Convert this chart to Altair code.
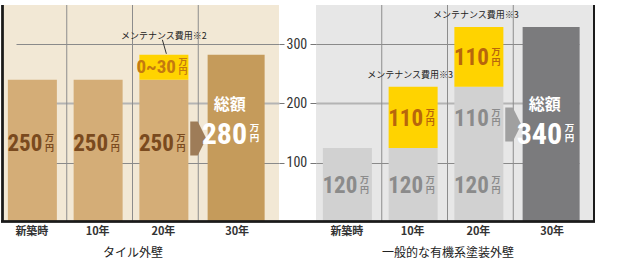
import altair as alt
import pandas as pd

# ---------------- data ----------------
categories = ["新築時", "10年", "20年", "30年"]
y_ticks = [100, 200, 300]

# タイル外壁 (bar heights as drawn, labels as printed)
tile_base = [240, 240, 240]
tile_base_text = ["250", "250", "250"]
tile_maint = [0, 0, 42]
tile_maint_text = ["", "", "0~30"]
tile_maint_kind = ["", "", "maint"]
tile_total = 282
tile_total_text = "280"
tile_note = "メンテナンス費用※2"
tile_title = "タイル外壁"

# 一般的な有機系塗装外壁
paint_base = [125, 125, 125]
paint_base_text = ["120", "120", "120"]
paint_maint1 = [0, 103, 103]
paint_maint1_text = ["", "110", "110"]
paint_maint1_kind = ["", "maint", "past"]
paint_maint2 = [0, 0, 101]
paint_maint2_text = ["", "", "110"]
paint_maint2_kind = ["", "", "maint"]
paint_total = 329
paint_total_text = "340"
paint_note = "メンテナンス費用※3"
paint_title = "一般的な有機系塗装外壁"

total_head = "総額"
unit_text = "万\n円"

# ---------------- helpers ----------------
NUM = "Roboto Condensed, Roboto, sans-serif"
JP = "Noto Sans CJK JP"
W, H = 278, 217
YMAX = 366
ARROW = "M-0.47,-1L-0.03,-1L0.47,0L-0.03,1L-0.47,1Z"


def build(base, base_text, maints, total, total_text):
    rows = []
    for i in range(3):
        y = base[i]
        rows.append(dict(cat=categories[i], y0=0, y1=y, kind="base", text=base_text[i]))
        for vals, texts, kinds in maints:
            if vals[i] > 0:
                rows.append(dict(cat=categories[i], y0=y, y1=y + vals[i], kind=kinds[i], text=texts[i]))
                y += vals[i]
    rows.append(dict(cat=categories[3], y0=0, y1=total, kind="total", text=total_text))
    df = pd.DataFrame(rows)
    df["mid"] = (df.y0 + df.y1) / 2
    return df


def panel(df, note, title, styles, tot, yaxis, bg, note_dx, note_dy, leader, side_x, base_x2):
    xs = alt.Scale(domain=categories, range=[0, 263], paddingInner=0, paddingOuter=0)
    xax = alt.Axis(title=title, orient="bottom", domain=False, ticks=False, grid=False,
                   labelAngle=0, labelFont=JP, labelFontSize=11, labelFontWeight="bold",
                   labelColor="#333333", labelPadding=3,
                   labelOffset={"condition": {"test": "datum.value === '30年'", "value": 6}, "value": -2},
                   titleFont=JP, titleFontSize=12, titleFontWeight="normal",
                   titleColor="#222222", titlePadding=11)
    ys = alt.Scale(domain=[0, YMAX], nice=False, zero=True)

    def X(**kw):
        return alt.X("cat:N", scale=xs, axis=xax, **kw)

    def Y(f):
        return alt.Y(f, scale=ys, axis=yaxis)

    kinds = list(styles.keys()) + ["total"]
    fills = [styles[k]["fill"] for k in styles] + [tot["fill"]]
    color = alt.Color("kind:N", scale=alt.Scale(domain=kinds, range=fills), legend=None)

    layers = []
    vg = pd.DataFrame({"cat": categories[1:]})
    layers.append(alt.Chart(vg).mark_rule(color="#8c8c8c", strokeWidth=1).encode(
        x=X(bandPosition=0), y=alt.value(0), y2=alt.value(H)))

    segs = df[df.kind != "total"]
    tdf = df[df.kind == "total"]
    layers.append(alt.Chart(segs).mark_bar(width=49, xOffset=-1.5).encode(
        x=X(), y=Y("y1:Q"), y2="y0:Q", color=color))
    layers.append(alt.Chart(tdf).mark_bar(width=57, xOffset=5).encode(
        x=X(), y=Y("y1:Q"), y2="y0:Q", color=color))
    layers.append(alt.Chart(tdf).mark_point(shape=ARROW, size=1156, filled=True, opacity=1,
                                            color=tot["arrow"], strokeWidth=0).encode(
        x=X(bandPosition=0), y=Y("mid:Q")))

    for k, st in styles.items():
        sub = segs[(segs.kind == k) & (segs.text != "")]
        if len(sub) == 0:
            continue
        s = st["size"]
        layers.append(alt.Chart(sub).mark_text(
            font=NUM, fontWeight="bold", fontSize=s, color=st["text"], align="right",
            baseline="alphabetic", dx=st["dx"], dy=0.355 * s + st["off"]).encode(
            x=X(), y=Y("mid:Q"), text="text:N"))
        layers.append(alt.Chart(sub).mark_text(
            font=JP, fontWeight="bold", fontSize=9, lineHeight=9.5, lineBreak="\n",
            color=st["text"], align="left", baseline="middle",
            dx=st["dx"] + 2.5, dy=st["off"] - 4.75).encode(
            x=X(), y=Y("mid:Q"), text=alt.value(unit_text)))

    s = tot["size"]
    layers.append(alt.Chart(tdf).mark_text(
        font=JP, fontWeight="bold", fontSize=16, color="white", align="center",
        baseline="middle", dx=tot["head_dx"], dy=tot["head_dy"]).encode(
        x=X(), y=Y("mid:Q"), text=alt.value(total_head)))
    layers.append(alt.Chart(tdf).mark_text(
        font=NUM, fontWeight="bold", fontSize=s, color="white", align="right",
        baseline="alphabetic", dx=tot["dx"], dy=0.355 * s + tot["num_off"]).encode(
        x=X(), y=Y("mid:Q"), text="text:N"))
    layers.append(alt.Chart(tdf).mark_text(
        font=JP, fontWeight="bold", fontSize=9.5, lineHeight=10, lineBreak="\n",
        color="white", align="left", baseline="middle",
        dx=tot["dx"] + 2.5, dy=tot["num_off"] - 5).encode(
        x=X(), y=Y("mid:Q"), text=alt.value(unit_text)))

    ndf = df[df.kind == "maint"].copy()
    ndf["note"] = note
    layers.append(alt.Chart(ndf).mark_text(
        font=JP, fontSize=9, color="#222222", align="center", baseline="middle",
        dx=note_dx, dy=note_dy).encode(x=X(), y=Y("y1:Q"), text="note:N"))
    if leader:
        layers.append(alt.Chart(ndf).mark_rule(
            color="#333333", strokeWidth=1, xOffset=-3, x2Offset=1, yOffset=-15, y2Offset=-1).encode(
            x=X(bandPosition=0.5), x2=alt.X2("cat", bandPosition=0.5), y=Y("y1:Q"), y2="y1:Q"))

    layers.append(alt.Chart(vg).mark_rule(color="#1a1a1a", strokeWidth=2).encode(
        x=alt.value(0), x2=alt.value(base_x2), y=alt.value(H - 0.5)))
    layers.append(alt.Chart(vg).mark_rule(color="#1a1a1a", strokeWidth=2).encode(
        x=alt.value(side_x), y=alt.value(0), y2=alt.value(H)))

    return alt.layer(*layers).properties(
        width=W, height=H, view=alt.ViewBackground(fill=bg, strokeWidth=0))


grid_color = {"condition": {"test": "datum.value === 200", "value": "#b4b4b4"}, "value": "#8a8a8a"}
grid_width = {"condition": {"test": "datum.value === 200", "value": 2}, "value": 1}

yaxis_left = alt.Axis(orient="right", values=y_ticks, grid=True, gridColor=grid_color,
                      gridWidth=grid_width, domain=False, ticks=True, tickSize=5,
                      tickColor="#777777", labelFont=NUM, labelFontSize=14,
                      labelColor="#333333", labelPadding=2, title=None)
yaxis_right = alt.Axis(orient="left", values=y_ticks, grid=True, gridColor=grid_color,
                       gridWidth=grid_width, domain=False, ticks=True, tickSize=6,
                       tickColor="#777777", labels=False, title=None)

tile_df = build(tile_base, tile_base_text, [(tile_maint, tile_maint_text, tile_maint_kind)],
                tile_total, tile_total_text)
paint_df = build(paint_base, paint_base_text,
                 [(paint_maint1, paint_maint1_text, paint_maint1_kind),
                  (paint_maint2, paint_maint2_text, paint_maint2_kind)],
                 paint_total, paint_total_text)

left_styles = {
    "base": dict(fill="#D4AD77", text="#7A4A1E", size=23, off=-8, dx=8.5),
    "maint": dict(fill="#FFD300", text="#C47A10", size=19, off=-1, dx=10.5),
}
left_total = dict(fill="#C59B5B", size=30, dx=16, num_off=-5.5, head_dy=-33, head_dx=-1.5,
                  arrow="#9E7C58")
right_styles = {
    "base": dict(fill="#D1D1D1", text="#8B8B8B", size=23, off=0, dx=8.5),
    "past": dict(fill="#D1D1D1", text="#8B8B8B", size=23, off=0, dx=8.5),
    "maint": dict(fill="#FFD300", text="#B8660C", size=23, off=0, dx=8.5),
}
right_total = dict(fill="#7B7B7D", size=30, dx=16, num_off=8.5, head_dy=-19, head_dx=-1.5,
                   arrow="#A0A0A0")

left = panel(tile_df, tile_note, tile_title, left_styles, left_total, yaxis_left, "#F2E8D5",
             note_dx=-1.5, note_dy=-19, leader=True, side_x=1.5, base_x2=315)
right = panel(paint_df, paint_note, paint_title, right_styles, right_total, yaxis_right, "#E7E7E7",
              note_dx=-4.5, note_dy=-12, leader=False, side_x=278, base_x2=279)

chart = alt.hconcat(left, right, spacing=37, bounds="flush").resolve_scale(
    color="independent"
).properties(
    padding={"left": 0, "top": 4, "right": 0, "bottom": 0}, background="white"
).configure_view(strokeWidth=0)

chart.save("out.html", embed_options={"renderer": "svg", "actions": False})
